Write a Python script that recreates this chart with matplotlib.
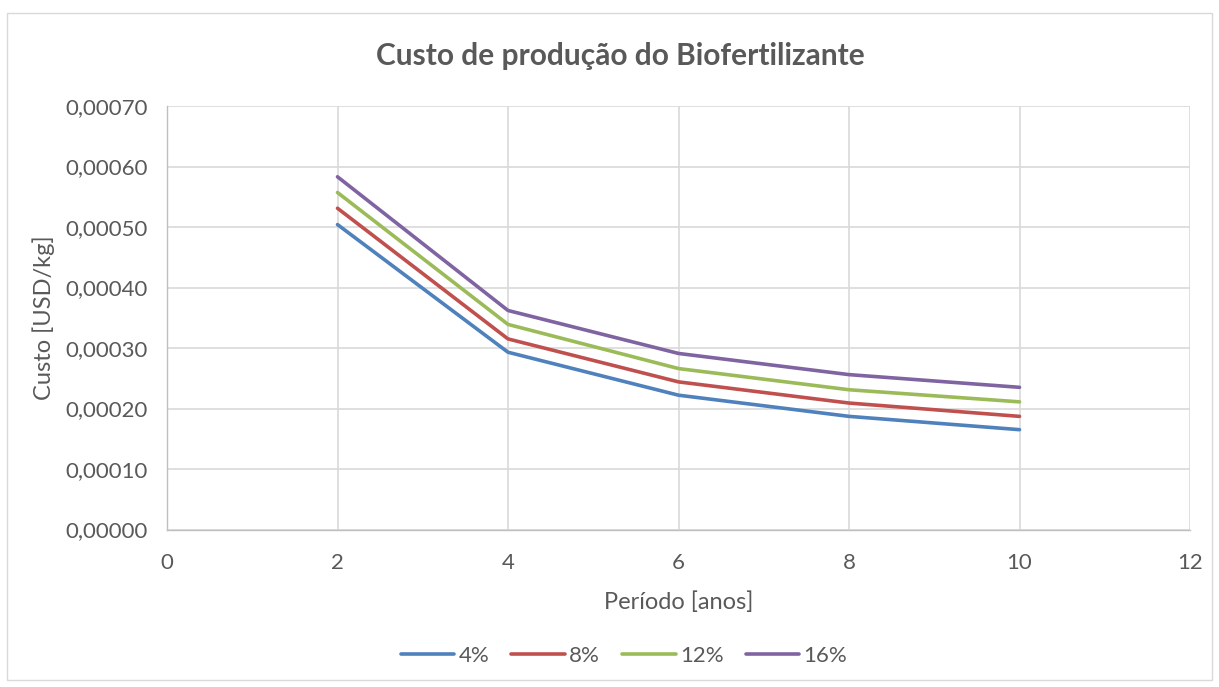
import matplotlib
matplotlib.use("Agg")
import matplotlib.pyplot as plt
from matplotlib.ticker import FuncFormatter, MultipleLocator
from matplotlib.patches import Rectangle

periods = [2, 4, 6, 8, 10]
series_labels = ["4%", "8%", "12%", "16%"]
cost_4 = [0.000504, 0.000293, 0.000222, 0.000187, 0.000165]
cost_8 = [0.000531, 0.000315, 0.000244, 0.000209, 0.000187]
cost_12 = [0.000557, 0.000339, 0.000266, 0.000231, 0.000211]
cost_16 = [0.000583, 0.000362, 0.000291, 0.000256, 0.000235]
colors = ["#4F81BD", "#C0504D", "#9BBB59", "#8064A2"]

plt.rcParams['font.family'] = ['Lato', 'DejaVu Sans']
txt = "#595959"

fig = plt.figure(figsize=(12.19, 6.87), dpi=100)
fig.patches.append(Rectangle((7/1219, 1-680/687), (1212-7)/1219, (680-13)/687,
                             transform=fig.transFigure, fill=False,
                             edgecolor="#d9d9d9", linewidth=1))
ax = fig.add_axes([167/1219, 1-529.5/687, (1190-167)/1219, (529.5-106)/687])

for vals, lab, c in zip([cost_4, cost_8, cost_12, cost_16], series_labels, colors):
    ax.plot(periods, vals, color=c, linewidth=2.6, label=lab, solid_capstyle='round')

ax.set_xlim(0, 12)
ax.set_ylim(0, 0.0007)
ax.xaxis.set_major_locator(MultipleLocator(2))
ax.yaxis.set_major_locator(MultipleLocator(0.0001))
ax.yaxis.set_major_formatter(FuncFormatter(lambda v, p: f"{v:.5f}".replace(".", ",")))
ax.grid(True, color="#d9d9d9", linewidth=1.2)
ax.set_axisbelow(True)
for s in ["top", "right"]:
    ax.spines[s].set_visible(False)
for s in ["left", "bottom"]:
    ax.spines[s].set_color("#bfbfbf")
    ax.spines[s].set_linewidth(1)
ax.tick_params(length=0, labelsize=16, colors=txt, pad=14)
ax.tick_params(axis='x', pad=17)

ax.set_xlabel("Período [anos]", fontsize=17, color=txt, labelpad=13)
ax.set_ylabel("Custo [USD/kg]", fontsize=17, color=txt, labelpad=7)
fig.text(620/1219, 1-56/687, "Custo de produção do Biofertilizante", ha="center", va="center",
         fontsize=21.5, fontweight="bold", color=txt)

fig.legend(loc="center", bbox_to_anchor=(624/1219, 1-656/687), ncol=4, frameon=False,
           fontsize=16, handlelength=2.4, columnspacing=1.0, handletextpad=0.2,
           labelcolor=txt)

fig.savefig("out.png", dpi=100)
